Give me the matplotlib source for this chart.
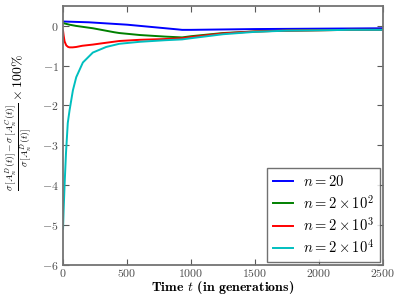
import numpy as np
import matplotlib
matplotlib.use('Agg')
import matplotlib.pyplot as plt

plt.rcParams['font.family'] = 'serif'
plt.rcParams['font.serif'] = ['cmr10']
plt.rcParams['mathtext.fontset'] = 'cm'
plt.rcParams['axes.unicode_minus'] = False

# values (time in generations, relative difference in %)
t_blue = [0, 100, 200, 300, 400, 500, 600, 700, 800, 900, 930, 1000, 1250, 1500, 1750, 2000, 2250, 2500]
v_blue = [0.11, 0.10, 0.09, 0.07, 0.05, 0.03, 0.0, -0.03, -0.06, -0.09, -0.10, -0.10, -0.09, -0.08, -0.075, -0.07, -0.065, -0.06]

t_green = [0, 50, 100, 233, 400, 440, 600, 800, 930, 1000, 1250, 1500, 1750, 2000, 2250, 2500]
v_green = [0.07, 0.03, 0.0, -0.06, -0.16, -0.18, -0.23, -0.27, -0.29, -0.26, -0.18, -0.14, -0.12, -0.11, -0.10, -0.10]

t_red = [0, 5, 12, 25, 40, 51, 75, 103, 150, 233, 300, 440, 600, 800, 930, 1000, 1250, 1500, 1750, 2000, 2250, 2500]
v_red = [-0.12, -0.25, -0.39, -0.49, -0.53, -0.54, -0.54, -0.53, -0.50, -0.47, -0.44, -0.38, -0.35, -0.33, -0.31, -0.28, -0.19, -0.14, -0.12, -0.11, -0.10, -0.10]

t_cyan = [0, 5, 12, 23, 37, 51, 77, 103, 155, 233, 337, 440, 600, 800, 930, 1000, 1250, 1500, 1750, 2000, 2250, 2500]
v_cyan = [-5.1, -4.6, -4.0, -3.2, -2.44, -2.12, -1.62, -1.29, -0.92, -0.67, -0.53, -0.45, -0.40, -0.36, -0.34, -0.31, -0.21, -0.15, -0.12, -0.11, -0.10, -0.10]

labels = [r'$n=20$', r'$n=2\times10^2$', r'$n=2\times10^3$', r'$n=2\times10^4$']

x_ticks = [0, 500, 1000, 1500, 2000, 2500]
y_ticks = [-6, -5, -4, -3, -2, -1, 0]

fig = plt.figure(figsize=(3.99, 2.99), dpi=100)
ax = fig.add_axes([0.158, 0.115, 0.802, 0.865])

ax.plot(t_blue, v_blue, color='b', lw=1.4, label=labels[0])
ax.plot(t_green, v_green, color='g', lw=1.4, label=labels[1])
ax.plot(t_red, v_red, color='r', lw=1.4, label=labels[2])
ax.plot(t_cyan, v_cyan, color='c', lw=1.4, label=labels[3])

ax.set_xlim(0, 2500)
ax.set_ylim(-6, 0.5)
ax.set_xticks(x_ticks)
ax.set_xticklabels(['$%d$' % v for v in x_ticks])
ax.set_yticks(y_ticks)
ax.set_yticklabels(['$%d$' % v for v in y_ticks])

for sp in ax.spines.values():
    sp.set_color('0.45')
    sp.set_linewidth(1.3)
ax.tick_params(direction='in', top=True, right=True, length=4, width=0.8,
               color='0.35', labelsize=8.5, labelcolor='0.3')
ax.tick_params(axis='x', pad=2)
ax.tick_params(axis='y', pad=3)

ax.set_xlabel(r'Time $t$ (in generations)', fontname='cmb10', fontsize=10, labelpad=0)
ax.set_ylabel(r'$\frac{\sigma\,[A_n^D(t)]-\sigma\,[A_n^C(t)]}{\sigma\,[A_n^D(t)]}\times100\%$', fontsize=10)
ax.yaxis.set_label_coords(-0.09, 0.55)

leg = ax.legend(loc='lower right', fontsize=10.5, handlelength=1.4, borderaxespad=0.2,
                labelspacing=0.3, handletextpad=0.7, fancybox=False)
leg.get_frame().set_edgecolor('0.3')
leg.get_frame().set_linewidth(1.0)

plt.savefig('out.png', dpi=100)
